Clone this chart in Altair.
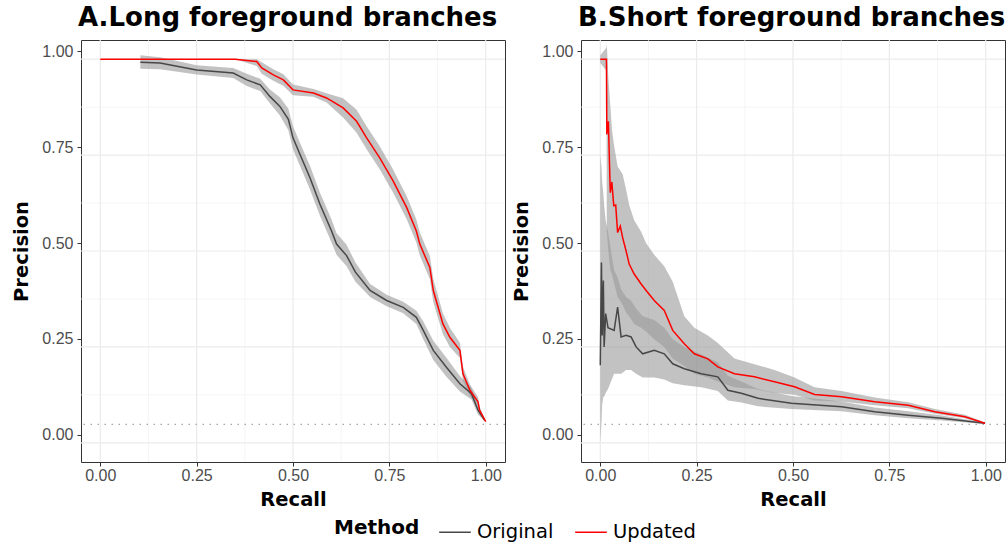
import altair as alt
import pandas as pd

# ---- Panel A: long foreground branches ----
A_ORIG_R = [0.104, 0.155, 0.25, 0.345, 0.38, 0.415, 0.44, 0.466, 0.488, 0.50, 0.518, 0.544, 0.570,
            0.60, 0.613, 0.639, 0.662, 0.70, 0.743, 0.786, 0.82, 0.838, 0.864, 0.898, 0.933, 0.963,
            0.98, 0.997]
A_ORIG_P = [0.992, 0.99, 0.972, 0.964, 0.946, 0.933, 0.903, 0.877, 0.843, 0.795, 0.752, 0.691, 0.622,
            0.552, 0.518, 0.488, 0.445, 0.397, 0.371, 0.353, 0.327, 0.293, 0.241, 0.197, 0.154, 0.128,
            0.085, 0.059]
A_ORIG_LO = [0.975, 0.974, 0.96, 0.951, 0.93, 0.917, 0.885, 0.853, 0.815, 0.765, 0.722, 0.66, 0.592,
             0.522, 0.49, 0.46, 0.42, 0.38, 0.356, 0.338, 0.31, 0.27, 0.216, 0.172, 0.134, 0.113,
             0.074, 0.056]
A_ORIG_HI = [1.01, 1.005, 0.984, 0.977, 0.962, 0.949, 0.921, 0.901, 0.871, 0.825, 0.782, 0.722, 0.652,
             0.582, 0.546, 0.516, 0.47, 0.414, 0.386, 0.368, 0.344, 0.316, 0.266, 0.222, 0.174, 0.143,
             0.096, 0.062]

A_UPD_R = [0.0, 0.35, 0.406, 0.419, 0.449, 0.475, 0.50, 0.553, 0.587, 0.63, 0.665, 0.691, 0.725,
           0.76, 0.795, 0.82, 0.829, 0.855, 0.864, 0.889, 0.907, 0.933, 0.941, 0.959, 0.98, 0.984, 1.0]
A_UPD_P = [1.0, 1.0, 0.994, 0.977, 0.959, 0.946, 0.92, 0.912, 0.899, 0.873, 0.838, 0.795, 0.743,
           0.682, 0.613, 0.552, 0.518, 0.457, 0.397, 0.31, 0.275, 0.241, 0.18, 0.137, 0.107, 0.085, 0.055]
A_UPD_LO = [1.0, 1.0, 0.982, 0.962, 0.944, 0.931, 0.906, 0.902, 0.887, 0.848, 0.808, 0.765, 0.713,
            0.652, 0.583, 0.522, 0.488, 0.427, 0.367, 0.283, 0.25, 0.221, 0.162, 0.122, 0.095, 0.076, 0.053]
A_UPD_HI = [1.0, 1.0, 1.0, 0.992, 0.974, 0.961, 0.934, 0.922, 0.911, 0.898, 0.868, 0.825, 0.773,
            0.712, 0.643, 0.582, 0.548, 0.487, 0.427, 0.337, 0.3, 0.261, 0.198, 0.152, 0.119, 0.094, 0.057]

# ---- Panel B: short foreground branches ----
B_ORIG_R = [0.0, 0.003, 0.005, 0.008, 0.01, 0.014, 0.02, 0.036, 0.045, 0.054, 0.067, 0.08, 0.093,
            0.11, 0.14, 0.166, 0.188, 0.218, 0.262, 0.305, 0.331, 0.366, 0.409, 0.496, 0.626, 0.712,
            0.799, 0.886, 0.998]
B_ORIG_P = [0.202, 0.47, 0.28, 0.423, 0.25, 0.337, 0.30, 0.293, 0.354, 0.276, 0.28, 0.276, 0.25,
            0.232, 0.241, 0.232, 0.206, 0.193, 0.18, 0.172, 0.137, 0.129, 0.116, 0.103, 0.094, 0.081,
            0.072, 0.064, 0.051]
B_ORIG_LO = [0.0, 0.05, 0.1, 0.12, 0.12, 0.13, 0.14, 0.18, 0.18, 0.18, 0.19, 0.19, 0.18,
             0.17, 0.17, 0.165, 0.155, 0.15, 0.145, 0.135, 0.11, 0.105, 0.095, 0.088, 0.082, 0.072,
             0.064, 0.058, 0.049]
B_ORIG_HI = [0.75, 0.72, 0.68, 0.65, 0.62, 0.58, 0.55, 0.45, 0.43, 0.40, 0.38, 0.37, 0.35,
             0.33, 0.32, 0.30, 0.27, 0.25, 0.23, 0.21, 0.175, 0.16, 0.14, 0.122, 0.108, 0.092,
             0.082, 0.071, 0.053]

B_UPD_R = [0.0, 0.016, 0.017, 0.021, 0.026, 0.03, 0.035, 0.04, 0.045, 0.052, 0.058, 0.067, 0.075,
           0.088, 0.106, 0.119, 0.14, 0.166, 0.188, 0.218, 0.244, 0.279, 0.305, 0.348, 0.40, 0.452,
           0.504, 0.556, 0.626, 0.712, 0.799, 0.868, 0.946, 0.998]
B_UPD_P = [1.0, 1.0, 0.804, 0.838, 0.652, 0.68, 0.618, 0.62, 0.548, 0.565, 0.535, 0.50, 0.466,
           0.44, 0.414, 0.397, 0.371, 0.345, 0.293, 0.258, 0.232, 0.219, 0.198, 0.18, 0.172, 0.159,
           0.146, 0.126, 0.12, 0.107, 0.098, 0.081, 0.068, 0.051]
B_UPD_LO = [0.99, 0.97, 0.55, 0.5, 0.45, 0.44, 0.42, 0.4, 0.38, 0.37, 0.36, 0.34, 0.33,
            0.31, 0.30, 0.29, 0.27, 0.25, 0.22, 0.20, 0.18, 0.17, 0.16, 0.145, 0.14, 0.13,
            0.125, 0.11, 0.108, 0.098, 0.09, 0.076, 0.064, 0.05]
B_UPD_HI = [1.01, 1.03, 1.04, 0.95, 0.88, 0.82, 0.78, 0.75, 0.72, 0.71, 0.70, 0.66, 0.62,
            0.58, 0.55, 0.52, 0.49, 0.46, 0.42, 0.33, 0.30, 0.28, 0.26, 0.22, 0.205, 0.19,
            0.17, 0.145, 0.135, 0.118, 0.106, 0.088, 0.073, 0.053]

# baseline precision (fraction of positives)
BASELINE = [0.048]

MAJOR = [0.0, 0.25, 0.5, 0.75, 1.0]
MINOR = [0.125, 0.375, 0.625, 0.875]
METHODS = ["Original", "Updated"]
COLORS = ["#474747", "#ff0000"]

FONT = "DejaVu Sans"
TICK_FONT = "Liberation Sans"
W, H = 424, 422
DOMAIN = [-0.05, 1.05]

XS = alt.Scale(domain=DOMAIN, nice=False, zero=False)
YS = alt.Scale(domain=DOMAIN, nice=False, zero=False)
X_AXIS = alt.Axis(values=MAJOR, format=".2f", grid=False, domain=False,
                  tickSize=4, tickColor="#333333", labelColor="#4d4d4d",
                  labelFontSize=16, labelFont=TICK_FONT, labelPadding=1,
                  titleFont=FONT, titleFontSize=19.5, titleFontWeight="bold",
                  titleColor="#000000", titlePadding=7)
Y_AXIS = alt.Axis(values=MAJOR, format=".2f", grid=False, domain=False,
                  tickOffset=-8, tickSize=4, tickColor="#333333",
                  labelColor="#4d4d4d", labelFontSize=16, labelFont=TICK_FONT,
                  labelPadding=4, titleFont=FONT, titleFontSize=19.5,
                  titleFontWeight="bold", titleColor="#000000", titlePadding=10)


def xenc(field):
    return alt.X(field, scale=XS, axis=X_AXIS, title="Recall")


def yenc(field):
    return alt.Y(field, scale=YS, axis=Y_AXIS, title="Precision")


def frame(method, r, p, lo, hi):
    return pd.DataFrame({"method": method, "recall": r, "precision": p, "lo": lo, "hi": hi})


def panel(orig, upd, title):
    data = pd.concat([orig, upd], ignore_index=True)

    def grid(values, width, color):
        df = pd.DataFrame({"v": values})
        gx = alt.Chart(df).mark_rule(color=color, strokeWidth=width).encode(x=xenc("v:Q"))
        gy = alt.Chart(df).mark_rule(color=color, strokeWidth=width).encode(y=yenc("v:Q"))
        return [gx, gy]

    layers = grid(MINOR, 0.7, "#f0f0f0") + grid(MAJOR, 1.2, "#ebebeb")

    # confidence ribbons, one per method
    bands = [
        alt.Chart(df).mark_area(fill="#999999", fillOpacity=0.6, strokeWidth=0, clip=True).encode(
            x=xenc("recall:Q"),
            y=yenc("lo:Q"),
            y2=alt.Y2("hi"),
        )
        for df in (orig, upd)
    ]

    base_line = alt.Chart(pd.DataFrame({"b": BASELINE})).mark_rule(
        color="#a6a6a6", strokeDash=[1.5, 5.5], strokeWidth=1.4
    ).encode(y=yenc("b:Q"))

    lines = alt.Chart(data).mark_line(strokeWidth=1.5, clip=True).encode(
        x=xenc("recall:Q"),
        y=yenc("precision:Q"),
        color=alt.Color("method:N", scale=alt.Scale(domain=METHODS, range=COLORS),
                        legend=alt.Legend(title="Method", orient="none", direction="horizontal",
                                          legendX=253, legendY=475, titleOrient="left",
                                          titleFont=FONT, titleFontSize=20, titleFontWeight="bold",
                                          titleColor="#000000", titlePadding=18,
                                          labelFont=FONT, labelFontSize=19.5, labelColor="#000000",
                                          labelOffset=5, symbolType="stroke", symbolSize=1000,
                                          symbolStrokeWidth=1.5, columnPadding=18)),
        order="recall:Q",
    )

    return alt.layer(*layers, *bands, base_line, lines).properties(
        width=W, height=H,
        title=alt.TitleParams(title, anchor="start", frame="group", font=FONT, fontSize=26,
                              fontWeight="bold", color="#000000", offset=8, dx=-3),
    )


panel_a = panel(frame("Original", A_ORIG_R, A_ORIG_P, A_ORIG_LO, A_ORIG_HI),
                frame("Updated", A_UPD_R, A_UPD_P, A_UPD_LO, A_UPD_HI),
                "A.Long foreground branches")
panel_b = panel(frame("Original", B_ORIG_R, B_ORIG_P, B_ORIG_LO, B_ORIG_HI),
                frame("Updated", B_UPD_R, B_UPD_P, B_UPD_LO, B_UPD_HI),
                "B.Short foreground branches")

chart = alt.hconcat(panel_a, panel_b, spacing=4).properties(
    padding={"left": 11, "top": 4, "right": 0, "bottom": 0},
    background="#ffffff",
).configure_view(stroke="#333333", strokeWidth=1)

chart.save("out.html", embed_options={"renderer": "svg", "actions": False})
